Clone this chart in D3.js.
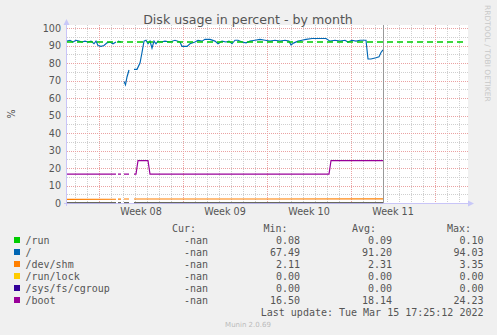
<!DOCTYPE html>
<html>
<head>
<meta charset="utf-8">
<script src="https://cdn.jsdelivr.net/npm/d3@7"></script>
<style>
  html, body { margin: 0; padding: 0; background: #f0f0f0; }
  svg { display: block; }
</style>
</head>
<body>
<div id="chart"></div>
<script>
// graph covers 800 hours, starting 2022-02-17 08:00 UTC; points are [hours from start, value]
const startTime = Date.UTC(2022, 1, 17, 8);
const spanHours = 800;
const nowHours = 632;

const rootPoints = [
  [0, 92.5], [6, 93], [12, 92], [18, 93], [24, 92.5], [30, 92], [36, 92.5], [42, 92],
  [48, 92.5], [54, 91], [58, 92.5], [62, 90], [68, 89.5], [74, 90], [80, 91.5], [86, 92],
  [92, 91], [98, 92], null, [102, 92.5], [108, 92], null,
  [114, 69.5], [117, 67.49], [120, 72], [124, 76], null,
  [134, 76.4], [140, 76.4], [146, 80], [150, 86], [154, 92.5], [158, 93], [162, 91],
  [166, 92.5], [170, 88.5], [174, 92.5], [178, 91], [182, 92.5], [188, 92], [196, 92.5],
  [206, 92], [216, 93], [226, 92], [230, 89.5], [240, 89.5], [246, 91], [256, 92],
  [262, 93], [270, 92.5], [276, 93.5], [286, 93.5], [296, 92.5], [302, 91], [310, 92.5],
  [318, 92], [324, 92.5], [330, 91], [336, 93], [342, 93], [350, 92], [358, 91.5],
  [366, 92.5], [376, 93], [386, 93.5], [396, 93], [406, 92.5], [416, 93], [426, 92.5],
  [436, 93], [444, 92.5], [448, 90.3], [454, 91.5], [462, 92.5], [470, 93], [478, 93.5],
  [490, 94], [518, 94], [526, 92.5], [536, 93], [546, 92.5], [556, 93], [562, 92],
  [570, 93], [578, 92.5], [586, 93], [598, 93], [602, 82.3], [608, 82.3], [618, 83],
  [624, 83.5], [628, 86], [632, 87.5]
];
const bootPoints = [
  [0, 16.5], [98, 16.5], null, [102, 16.5], [108, 16.5], null, [114, 16.5], [124, 16.5], null,
  [134, 16.5], [138, 16.5], [142, 24.23], [162, 24.23], [166, 16.5], [524, 16.5],
  [528, 24.23], [632, 24.23]
];
const shmPoints = [
  [0, 2.11], [98, 2.15], null, [102, 2.2], [108, 2.2], null, [114, 2.3], [124, 2.3], null,
  [134, 2.3], [400, 2.3], [632, 2.4]
];
const runPoints = [
  [0, 0.08], [98, 0.08], null, [102, 0.09], [108, 0.09], null, [114, 0.09], [124, 0.09], null,
  [134, 0.09], [632, 0.1]
];
const zeroPoints = [
  [0, 0], [98, 0], null, [102, 0], [108, 0], null, [114, 0], [124, 0], null, [134, 0], [632, 0]
];

const warningLevel = 92;
const yTicks = [0, 10, 20, 30, 40, 50, 60, 70, 80, 90, 100];

const seriesNames = ["/run", "/", "/dev/shm", "/run/lock", "/sys/fs/cgroup", "/boot"];
const seriesColors = ["#00cc00", "#0066b3", "#ff8000", "#ffcc00", "#330099", "#990099"];
const seriesData = [runPoints, rootPoints, shmPoints, zeroPoints, zeroPoints, bootPoints];
const curValues = ["-nan", "-nan", "-nan", "-nan", "-nan", "-nan"];
const minValues = ["0.08", "67.49", "2.11", "0.00", "0.00", "16.50"];
const avgValues = ["0.09", "91.20", "2.31", "0.00", "0.00", "18.14"];
const maxValues = ["0.10", "94.03", "3.35", "0.00", "0.00", "24.23"];

const width = 497, height = 335;
const plotLeft = 67, plotRight = 467, plotTop = 28, plotBottom = 203;
const canvasTop = 25;
const textColor = "#555";
const sans = "'DejaVu Sans', sans-serif";
const mono = "'DejaVu Sans Mono', monospace";

const hourDate = h => new Date(startTime + h * 3600e3);

const x = d3.scaleUtc()
  .domain([hourDate(0), hourDate(spanHours)])
  .range([plotLeft, plotRight]);
const y = d3.scaleLinear().domain([0, 100]).range([plotBottom, plotTop]);

const crisp = v => Math.round(v) + 0.5;

const svg = d3.select("#chart").append("svg")
  .attr("width", width)
  .attr("height", height);

svg.append("rect").attr("width", width).attr("height", height).attr("fill", "#f0f0f0");
svg.append("rect")
  .attr("x", plotLeft).attr("y", canvasTop)
  .attr("width", plotRight + 1 - plotLeft).attr("height", plotBottom - canvasTop)
  .attr("fill", "#fff");

// grid
const grid = svg.append("g").attr("stroke-dasharray", "1,1").attr("stroke-width", 1);
const days = d3.utcDay.range(x.domain()[0], x.domain()[1]);
const sundays = d3.utcSunday.range(x.domain()[0], x.domain()[1]);

grid.selectAll("line.vminor")
  .data(days.filter(d => d.getUTCDay() !== 0))
  .join("line")
  .attr("x1", d => crisp(x(d))).attr("x2", d => crisp(x(d)))
  .attr("y1", canvasTop).attr("y2", plotBottom)
  .attr("stroke", "#cfcfcf");

const minorY = d3.range(5, 100, 10);
grid.selectAll("line.hminor")
  .data(minorY)
  .join("line")
  .attr("x1", plotLeft).attr("x2", plotRight + 1)
  .attr("y1", d => crisp(y(d))).attr("y2", d => crisp(y(d)))
  .attr("stroke", "#cfcfcf");

grid.selectAll("line.vmajor")
  .data(sundays)
  .join("line")
  .attr("x1", d => crisp(x(d))).attr("x2", d => crisp(x(d)))
  .attr("y1", canvasTop).attr("y2", plotBottom)
  .attr("stroke", "#eaa2a2");

grid.selectAll("line.hmajor")
  .data(yTicks.filter(d => d > 0))
  .join("line")
  .attr("x1", plotLeft).attr("x2", plotRight + 1)
  .attr("y1", d => crisp(y(d))).attr("y2", d => crisp(y(d)))
  .attr("stroke", "#eaa2a2");

// y labels
svg.append("g").selectAll("text")
  .data(yTicks)
  .join("text")
  .attr("x", 61)
  .attr("y", d => y(d) + 3.5)
  .attr("text-anchor", "end")
  .attr("font-family", sans)
  .attr("font-size", 9.6)
  .attr("fill", textColor)
  .text(d => d);

// week labels in the middle of each week
const weekMids = sundays.map(d => d3.utcHour.offset(d, 84)).filter(d => d < x.domain()[1]);
svg.append("g").selectAll("text")
  .data(weekMids)
  .join("text")
  .attr("x", d => x(d))
  .attr("y", 215)
  .attr("text-anchor", "middle")
  .attr("font-family", sans)
  .attr("font-size", 9.6)
  .attr("fill", textColor)
  .text(d => "Week " + d3.utcFormat("%V")(d));

// data lines
const line = d3.line()
  .defined(d => d !== null)
  .x(d => x(hourDate(d[0])))
  .y(d => y(d[1]));

svg.append("g").selectAll("path")
  .data(seriesData)
  .join("path")
  .attr("d", d => line(d))
  .attr("fill", "none")
  .attr("stroke", (d, i) => seriesColors[i])
  .attr("stroke-width", 1.15);

// warning rule
svg.append("line")
  .attr("x1", plotLeft).attr("x2", plotRight - 2)
  .attr("y1", y(warningLevel)).attr("y2", y(warningLevel))
  .attr("stroke", "#00cc00")
  .attr("stroke-width", 1.3)
  .attr("stroke-dasharray", "6,4");

// "now" rule
svg.append("line")
  .attr("x1", crisp(x(hourDate(nowHours)))).attr("x2", crisp(x(hourDate(nowHours))))
  .attr("y1", canvasTop).attr("y2", plotBottom)
  .attr("stroke", "#999")
  .attr("stroke-width", 1);

// axes with arrows
const axisColor = "rgba(195,190,248,0.88)";
svg.append("line")
  .attr("x1", plotLeft - 0.5).attr("x2", plotLeft - 0.5)
  .attr("y1", plotBottom + 3).attr("y2", 22)
  .attr("stroke", axisColor);
svg.append("line")
  .attr("x1", plotLeft - 3).attr("x2", plotRight + 3)
  .attr("y1", plotBottom + 0.5).attr("y2", plotBottom + 0.5)
  .attr("stroke", axisColor);
svg.append("path")
  .attr("d", `M${plotLeft - 3.5},${25}L${plotLeft - 0.5},${19}L${plotLeft + 2.5},${25}Z`)
  .attr("fill", "#c8c8f8");
svg.append("path")
  .attr("d", `M${plotRight + 1},${plotBottom - 2.5}L${plotRight + 7},${plotBottom + 0.5}L${plotRight + 1},${plotBottom + 3.5}Z`)
  .attr("fill", "#c8c8f8");

// title and side texts
svg.append("text")
  .attr("x", 248).attr("y", 24)
  .attr("text-anchor", "middle")
  .attr("font-family", sans)
  .attr("font-size", 12.6)
  .attr("fill", textColor)
  .text("Disk usage in percent - by month");

svg.append("text")
  .attr("transform", "translate(15,114) rotate(-90)")
  .attr("text-anchor", "middle")
  .attr("font-family", sans)
  .attr("font-size", 9.6)
  .attr("fill", textColor)
  .text("%");

svg.append("text")
  .attr("transform", "translate(485,5) rotate(90)")
  .attr("font-family", sans)
  .attr("font-size", 7.5)
  .attr("fill", "#c8c8c8")
  .text("RRDTOOL / TOBI OETIKER");

// legend
const legend = svg.append("g")
  .attr("font-family", mono)
  .attr("font-size", 10)
  .attr("fill", textColor);

const headers = [["Cur:", 172], ["Min:", 263.5], ["Avg:", 352], ["Max:", 447]];
legend.selectAll("text.head")
  .data(headers)
  .join("text")
  .attr("x", d => d[1])
  .attr("y", 232)
  .text(d => d[0]);

const rowY = i => 243.5 + i * 12;
const rows = legend.selectAll("g.row")
  .data(seriesNames)
  .join("g");

rows.append("rect")
  .attr("x", 14).attr("y", (d, i) => rowY(i) - 6.5)
  .attr("width", 6).attr("height", 6)
  .attr("fill", (d, i) => seriesColors[i]);

rows.append("text")
  .attr("x", 25.5).attr("y", (d, i) => rowY(i))
  .text(d => d);

const columns = [[curValues, 208], [minValues, 300], [avgValues, 392], [maxValues, 483.5]];
columns.forEach(([vals, xEnd]) => {
  rows.append("text")
    .attr("x", xEnd).attr("y", (d, i) => rowY(i))
    .attr("text-anchor", "end")
    .text((d, i) => vals[i]);
});

legend.append("text")
  .attr("x", 483.5).attr("y", 316)
  .attr("text-anchor", "end")
  .text("Last update: Tue Mar 15 17:25:12 2022");

svg.append("text")
  .attr("x", 248).attr("y", 326.5)
  .attr("text-anchor", "middle")
  .attr("font-family", sans)
  .attr("font-size", 7)
  .attr("fill", "#bbb")
  .text("Munin 2.0.69");
</script>
</body>
</html>
